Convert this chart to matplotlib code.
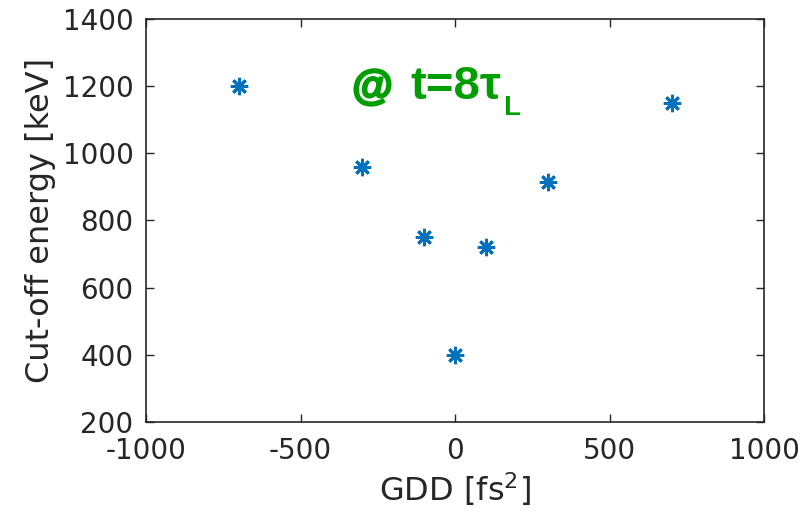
import matplotlib.pyplot as plt
from matplotlib import patheffects

plt.rcParams["axes.unicode_minus"] = False

# GDD scan: cut-off energy at t = 8 tau_L
gdd = [-700, -300, -100, 0, 100, 300, 700]
cutoff_kev = [1200, 960, 750, 400, 720, 915, 1150]

xticks = [-1000, -500, 0, 500, 1000]
yticks = [200, 400, 600, 800, 1000, 1200, 1400]

fig = plt.figure(figsize=(8.02, 5.15), dpi=100)
ax = fig.add_axes([0.182, 0.181, 0.771, 0.782])

ax.plot(gdd, cutoff_kev, linestyle="none", marker=(8, 2, 0),
        markersize=12.5, markeredgewidth=2.0, color="#0072BD")

ax.set_xlim(-1000, 1000)
ax.set_ylim(200, 1400)
ax.set_xticks(xticks)
ax.set_yticks(yticks)
ax.tick_params(direction="in", top=True, right=True, length=6, width=1,
               labelsize=20, colors="#262626")
ax.tick_params(axis="y", pad=9)
ax.tick_params(axis="x", pad=11)
for sp in ax.spines.values():
    sp.set_color("#262626")
    sp.set_linewidth(1.2)

ax.set_xlabel("GDD [fs$^2$]", fontsize=23, color="#262626", labelpad=4)
ax.set_ylabel("Cut-off energy [keV]", fontsize=23, color="#262626", labelpad=5)

# annotation "@ t=8 tau_L", written in pieces so the subscript sits low
green = "#009E00"
font = dict(family="Liberation Sans", fontweight="bold", color=green,
            va="baseline", ha="left")
ax.text(-333, 1162, "@", fontsize=30,
        path_effects=[patheffects.withStroke(linewidth=1.6, foreground=green)],
        **font)
ax.text(-146, 1162, "t=8\u03c4", fontsize=34, **font)
ax.text(155, 1114, "L", fontsize=20, **font)

fig.savefig("out.png", dpi=100)
